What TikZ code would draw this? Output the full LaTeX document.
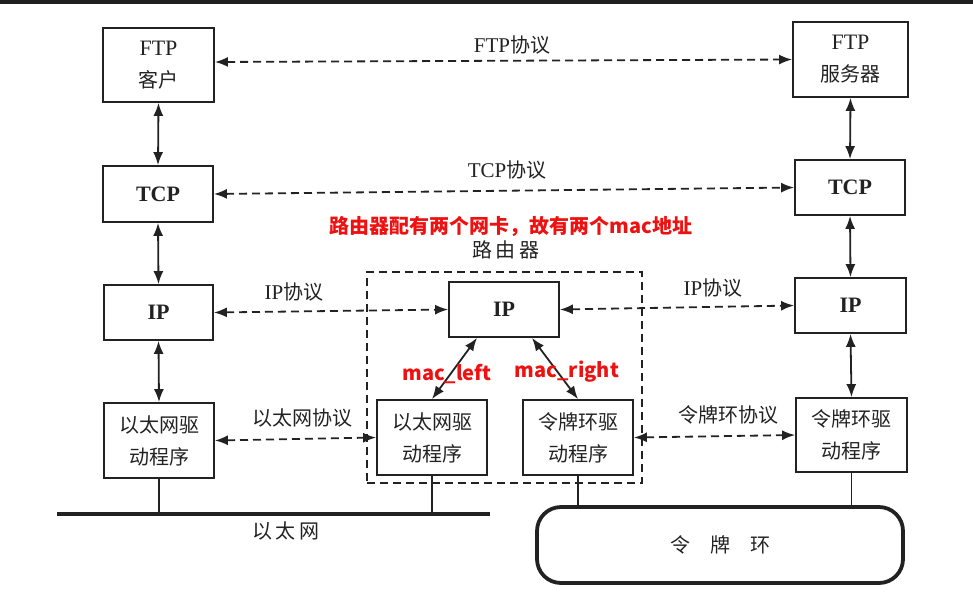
\documentclass[tikz,border=0pt]{standalone}
\usepackage{fontspec}
\setmainfont{Liberation Serif}
\newfontfamily\cjk{Noto Sans CJK SC}
\usetikzlibrary{arrows.meta,calc}
\definecolor{redtxt}{HTML}{EE1111}
\definecolor{inkc}{HTML}{222222}
\newcommand{\zh}[1]{{\cjk\fontsize{20}{31}\selectfont #1}}
\begin{document}
\begin{tikzpicture}[x=1pt,y=-1pt,
  every node/.style={text=inkc},
  box/.style={draw=inkc, line width=1.8pt, minimum width=110pt, minimum height=55pt, inner sep=0pt, align=center, font=\fontsize{22}{32}\selectfont},
  dbl/.style={{Latex[length=13pt,width=10pt]}-{Latex[length=13pt,width=10pt]}, line width=1.8pt, draw=inkc},
  dsh/.style={dbl, dash pattern=on 8pt off 5pt},
  lbl/.style={font=\fontsize{21}{22}\selectfont, inner sep=0pt},
  redlbl/.style={font=\cjk\bfseries\fontsize{20}{22}\selectfont, inner sep=0pt, text=redtxt},
  thin/.style={line width=1.4pt, draw=inkc}]
\useasboundingbox (0,0) rectangle (973,595);
\fill[black!88] (0,0) rectangle (973,4);

% left column
\node[box, minimum width=111pt, minimum height=74pt] (ftpc) at (158.5,65) {FTP\\\zh{客户}};
\node[box, minimum height=56pt] (tcpl) at (158,194) {\textbf{TCP}};
\node[box, minimum width=109pt] (ipl) at (158.5,312.5) {\textbf{IP}};
\node[box, minimum height=75pt] (ethl) at (159,440.5) {\zh{以太网驱}\\\zh{动程序}};

% right column
\node[box, minimum width=115pt, minimum height=75pt] (ftps) at (850.5,59.5) {FTP\\\zh{服务器}};
\node[box] (tcpr) at (850,187.5) {\textbf{TCP}};
\node[box, minimum width=111pt] (ipr) at (850.5,305.5) {\textbf{IP}};
\node[box, minimum width=111pt, minimum height=74pt] (trr) at (851.5,435) {\zh{令牌环驱}\\\zh{动程序}};

% router
\node[draw=inkc, line width=1.6pt, dash pattern=on 8pt off 5pt, minimum width=275pt, minimum height=211pt, inner sep=0pt] (router) at (504.5,377.5) {};
\node[box] (ipm) at (504,309.5) {\textbf{IP}};
\node[box, minimum height=75pt] (ethm) at (432,437.5) {\zh{以太网驱}\\\zh{动程序}};
\node[box, minimum height=75pt] (trm) at (578,437.5) {\zh{令牌环驱}\\\zh{动程序}};

% vertical arrows
\draw[dbl] (ftpc.south) -- (tcpl.north);
\draw[dbl] (tcpl.south) -- (ipl.north);
\draw[dbl] (ipl.south) -- (ethl.north);
\draw[dbl] (ftps.south) -- (tcpr.north);
\draw[dbl] (tcpr.south) -- (ipr.north);
\draw[dbl] (ipr.south) -- (trr.north);

% router internal
\draw[dbl] ($(ipm.south)+(-27,0)$) -- (ethm.north);
\draw[dbl] ($(ipm.south)+(28,0)$) -- (trm.north);

% peer protocols
\draw[dsh] ($(ftpc.east)+(0,-3)$) -- (ftps.west);
\draw[dsh] (tcpl.east) -- (tcpr.west);
\draw[dsh] (ipl.east) -- (ipm.west);
\draw[dsh] (ipm.east) -- (ipr.west);
\draw[dsh] (ethl.east) -- (ethm.west);
\draw[dsh] (trm.east) -- (trr.west);

% labels
\node[lbl] (lftp) at (512,45) {FTP\zh{协议}};
\node[lbl] (ltcp) at (507,170) {TCP\zh{协议}};
\node[lbl] (lipl) at (294,292) {IP\zh{协议}};
\node[lbl] (lipr) at (713,288) {IP\zh{协议}};
\node[lbl] (leth) at (302,418) {\zh{以太网协议}};
\node[lbl] (ltr) at (728,415) {\zh{令牌环协议}};
\node[lbl] (lrouter) at (506,250) {\zh{路\,由\,器}};
\node[redlbl] (note) at (511,226) {路由器配有两个网卡，故有两个mac地址};
\node[redlbl] (macl) at (447,374) {mac\_left};
\node[redlbl] (macr) at (567,372) {mac\_right};

% ethernet
\coordinate (eL) at (57,514);
\coordinate (eR) at (490,514);
\draw[line width=4.5pt, draw=inkc] (eL) -- (eR);
\draw[thin] (ethl.south) -- (ethl.south |- eL);
\draw[thin] (ethm.south) -- (ethm.south |- eL);
\node[lbl] (leth2) at (286,531) {\zh{以\,太\,网}};

% token ring
\node[draw=inkc, line width=3.8pt, rounded corners=24pt, minimum width=366pt, minimum height=76pt, inner sep=0pt] (ring) at (720,545) {\zh{令\quad 牌\quad 环}};
\draw[thin] (trm.south) -- (trm.south |- ring.north);
\draw[thin] (trr.south) -- (trr.south |- ring.north);
\end{tikzpicture}
\end{document}
